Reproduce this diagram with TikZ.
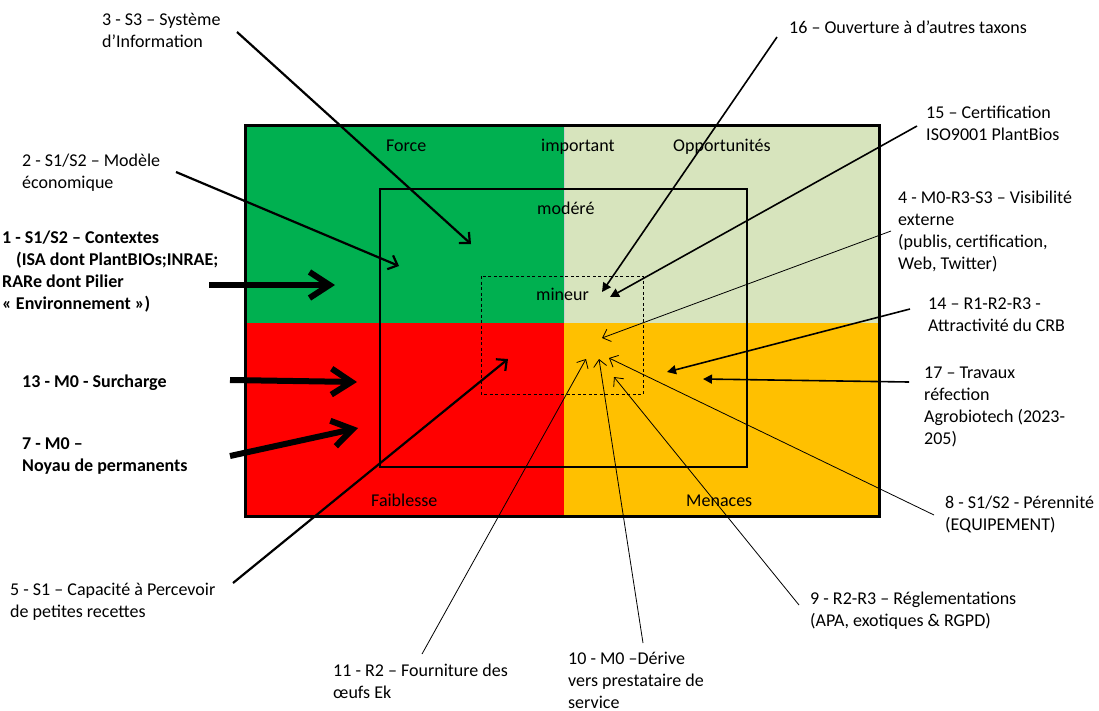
\documentclass[tikz,border=0pt]{standalone}
\usepackage{fontspec}
\setmainfont{Carlito}
\usetikzlibrary{arrows.meta}

\definecolor{forcegreen}{HTML}{00B050}
\definecolor{oppgreen}{HTML}{D7E4BD}
\definecolor{weakred}{HTML}{FF0000}
\definecolor{threatorange}{HTML}{FFC000}

\begin{document}
\begin{tikzpicture}[
    x=1pt, y=-1pt,
    lbl/.style={anchor=north west, inner sep=0pt, align=left, yshift=14pt,
        font=\fontsize{18}{22}\selectfont, execute at begin node=\strut},
    lblb/.style={lbl, font=\fontsize{18}{22}\selectfont\bfseries},
    heavy/.style={line width=6pt, -{Straight Barb[length=20pt,width=26pt]}},
    medium/.style={line width=2.2pt, -{Straight Barb[length=8pt,width=15pt]}},
    light/.style={line width=0.8pt, -{Straight Barb[length=7pt,width=13pt]}},
    filled/.style={line width=1.6pt, -{Triangle[length=9pt,width=9pt]}}
]
\useasboundingbox (0,0) rectangle (1099,710);

% SWOT quadrants
\fill[forcegreen] (245,125) rectangle (564,323);
\fill[oppgreen] (564,125) rectangle (879,323);
\fill[weakred] (245,323) rectangle (564,516);
\fill[threatorange] (564,323) rectangle (879,516);
\draw[white!80!black, line width=1pt] (564.5,125) -- (564.5,323);

% Levels
\draw[line width=1.3pt] (380,189) rectangle (747,467);
\draw[line width=0.8pt, dash pattern=on 3pt off 2.5pt] (481,276) rectangle (643,394);
\draw[line width=3pt] (245,125) rectangle (879,516);

% Quadrant and level names
\node[lbl] (force) at (386,150) {Force};
\node[lbl] (important) at (541,150) {important};
\node[lbl] (opport) at (673,150) {Opportunités};
\node[lbl] (modere) at (537,213) {modéré};
\node[lbl] (mineur) at (536,299) {mineur};
\node[lbl] (faiblesse) at (371,505) {Faiblesse};
\node[lbl] (menaces) at (686,505) {Menaces};

% Left side items
\node[lbl] (l3) at (102,27) {3 - S3 – Système\\d’Information};
\node[lbl] (l2) at (22,168) {2 - S1/S2 – Modèle\\économique};
\node[lblb] (l1) at (2,245) {1 - S1/S2 – Contextes\\\hspace*{14pt}(ISA dont PlantBIOs;INRAE;\\RARe dont Pilier\\«~Environnement~»)};
\node[lblb] (l13) at (22,386) {13 - M0 - Surcharge};
\node[lblb] (l7) at (22,451) {7 - M0 –\\Noyau de permanents};
\node[lbl] (l5) at (10,597) {5 - S1 – Capacité à Percevoir\\de petites recettes};

% Bottom items
\node[lbl] (l11) at (333,678) {11 - R2 – Fourniture des\\œufs Ek};
\node[lbl] (l10) at (568,666) {10 - M0 –Dérive\\vers prestataire de\\service};
\node[lbl] (l9) at (810,606) {9 - R2-R3 – Réglementations\\(APA, exotiques \& RGPD)};

% Right side items
\node[lbl] (l16) at (789,32) {16 – Ouverture à d’autres taxons};
\node[lbl] (l15) at (926,120) {15 – Certification\\ISO9001 PlantBios};
\node[lbl] (l4) at (898,205) {4 - M0-R3-S3 – Visibilité\\externe\\(publis, certification,\\Web, Twitter)};
\node[lbl] (l14) at (928,312) {14 – R1-R2-R3 -\\Attractivité du CRB};
\node[lbl] (l17) at (924,381) {17 – Travaux\\réfection\\Agrobiotech (2023-\\205)};
\node[lbl] (l8) at (945,510) {8 - S1/S2 - Pérennité\\(EQUIPEMENT)};

% Arrow ends
\coordinate (from1) at (209,285);  \coordinate (to1) at (335,285);
\coordinate (from13) at (230,380); \coordinate (to13) at (357,382);
\coordinate (from7) at (230,456);  \coordinate (to7) at (358,428);
\coordinate (from3) at (237,32);   \coordinate (to3) at (471,244);
\coordinate (from2) at (176,172);  \coordinate (to2) at (399,266);
\coordinate (from5) at (233,583);  \coordinate (to5) at (508,359);
\coordinate (from11) at (422,654); \coordinate (to11) at (586,359);
\coordinate (from10) at (643,643); \coordinate (to10) at (599,359);
\coordinate (from9) at (799,605);  \coordinate (to9) at (614,377);
\coordinate (from8) at (934,515);  \coordinate (to8) at (609,358);
\coordinate (from4) at (891,231);  \coordinate (to4) at (602,338);
\coordinate (from17) at (909,382); \coordinate (to17) at (703,379);
\coordinate (from14) at (910,309); \coordinate (to14) at (667,372);
\coordinate (from15) at (917,126); \coordinate (to15) at (610,297);
\coordinate (from16) at (777,37);  \coordinate (to16) at (602,292);

% Arrows
\foreach \i in {1,13,7} {
    \draw[heavy] (from\i) -- (to\i);
}
\foreach \i in {3,2,5} {
    \draw[medium] (from\i) -- (to\i);
}
\foreach \i in {11,10,9,8,4} {
    \draw[light] (from\i) -- (to\i);
}
\foreach \i in {17,14,15,16} {
    \draw[filled] (from\i) -- (to\i);
}

\end{tikzpicture}
\end{document}
